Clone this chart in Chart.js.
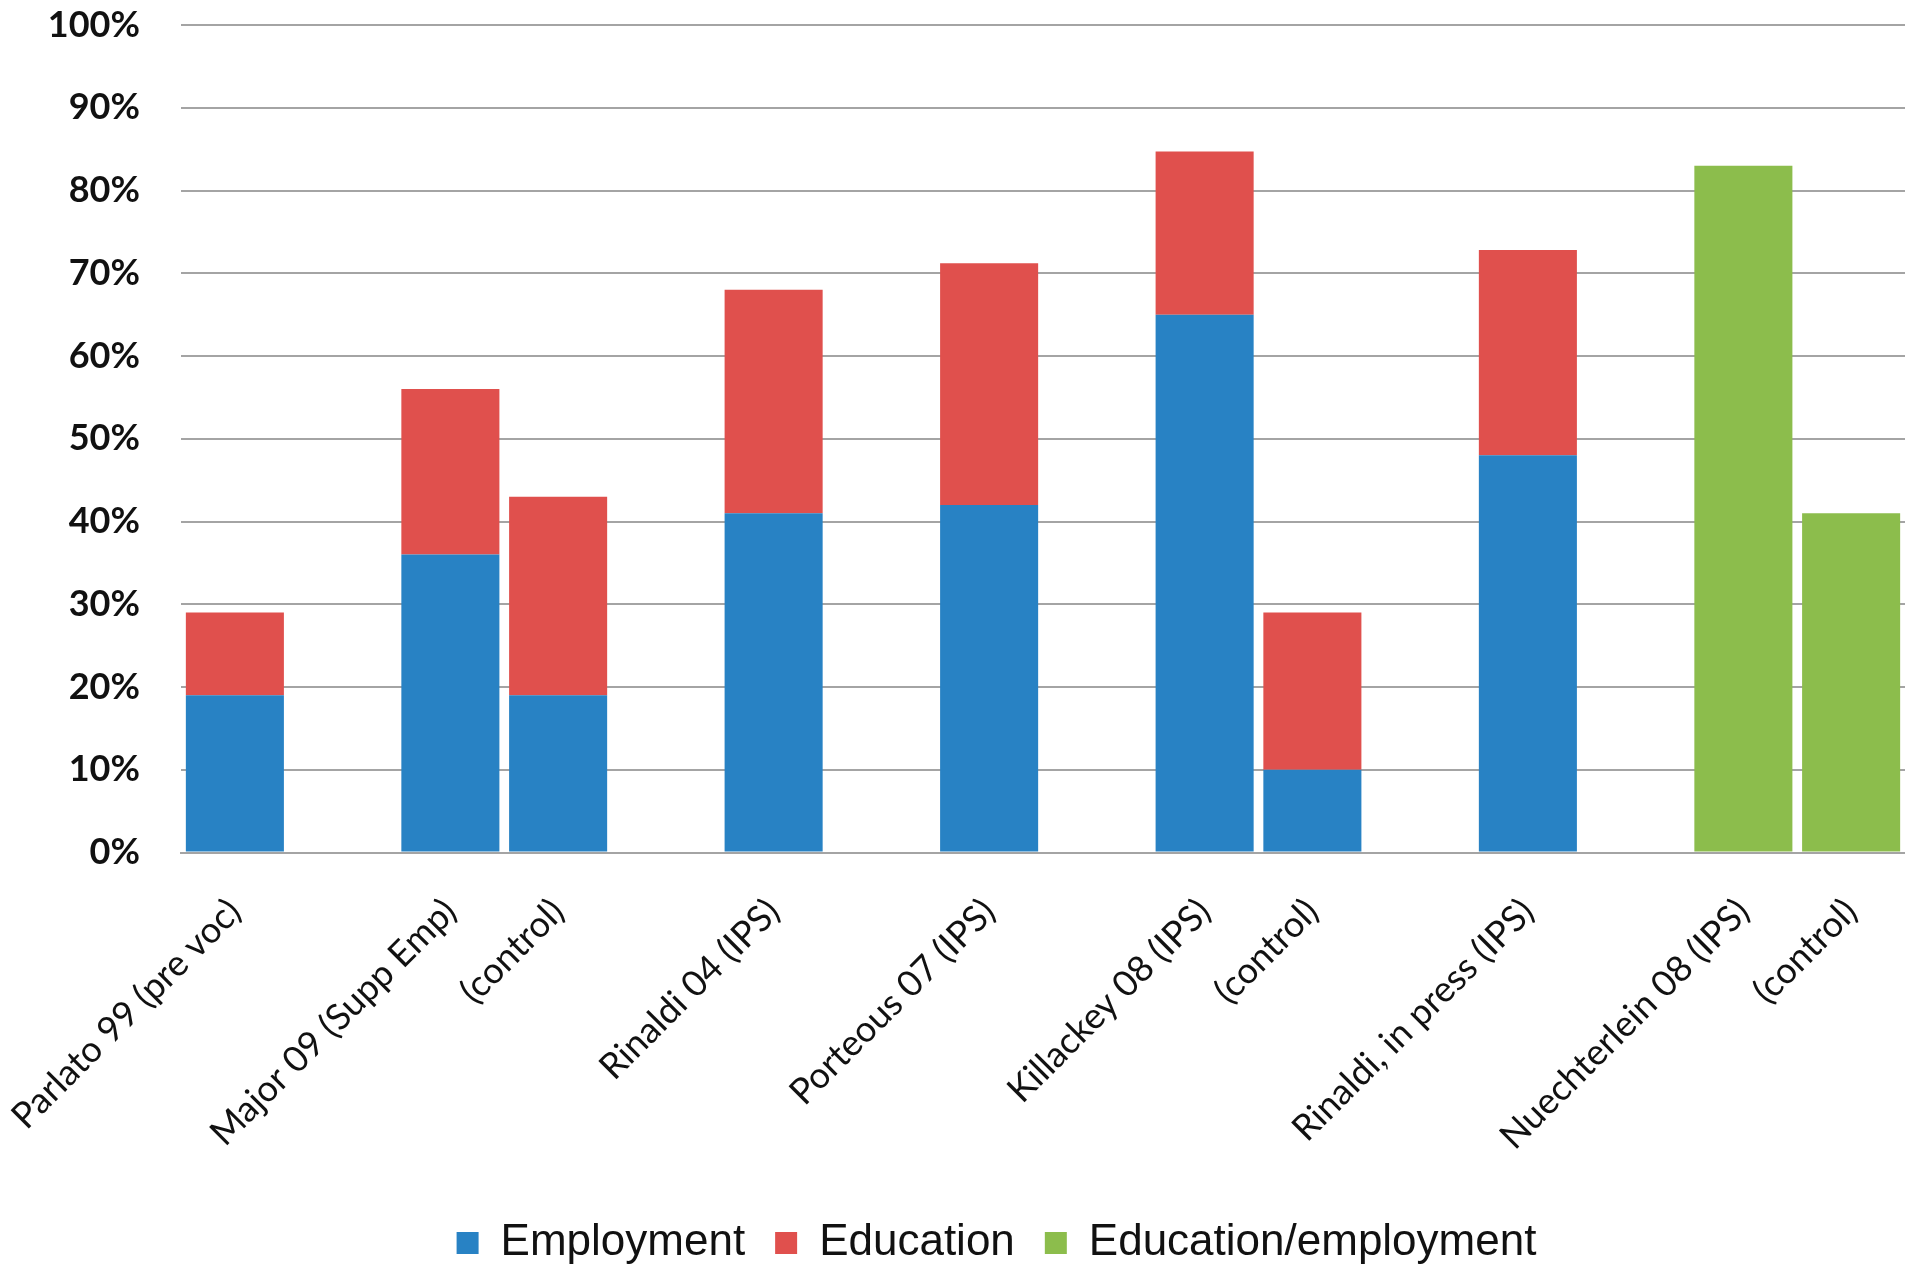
<!DOCTYPE html>
<html>
<head>
<meta charset="utf-8">
<script src="https://cdn.jsdelivr.net/npm/chart.js@4.4.0/dist/chart.umd.min.js"></script>
<style>
  html, body { margin: 0; padding: 0; background: #fff; overflow: hidden; }
  #wrap { width: 1905px; height: 1266px; position: relative; }
</style>
</head>
<body>
<div id="wrap"><canvas id="chart"></canvas></div>
<script>
// empty strings are the gaps between study groups
const categories = [
  'Parlato 99 (pre voc)', '',
  'Major 09 (Supp Emp)', '(control)', '',
  'Rinaldi 04 (IPS)', '',
  'Porteous 07 (IPS)', '',
  'Killackey 08 (IPS)', '(control)', '',
  'Rinaldi, in press (IPS)', '',
  'Nuechterlein 08 (IPS)', '(control)'
];
const employment = [19, null, 36, 19, null, 41, null, 42, null, 65, 10, null, 48, null, null, null];
const education = [10, null, 20, 24, null, 27, null, 29.2, null, 19.7, 19, null, 24.8, null, null, null];
const eduEmployment = [null, null, null, null, null, null, null, null, null, null, null, null, null, null, 83, 41];
const yTicks = [0, 10, 20, 30, 40, 50, 60, 70, 80, 90, 100];

const gridGray = '#a4a4a4';

// nudge the legend a little right of the canvas centre, as in the original
const legendShift = {
  id: 'legendShift',
  afterLayout(chart) {
    chart.legend.left += 44;
    chart.legend.right += 44;
  }
};

new Chart(document.getElementById('chart'), {
  type: 'bar',
  data: {
    labels: categories,
    datasets: [
      { label: 'Employment', data: employment, backgroundColor: '#2882c4' },
      { label: 'Education', data: education, backgroundColor: '#e0504d' },
      { label: 'Education/employment', data: eduEmployment, backgroundColor: '#8cbd4c' }
    ]
  },
  plugins: [legendShift],
  options: {
    responsive: true,
    maintainAspectRatio: false,
    animation: false,
    barPercentage: 0.91,
    categoryPercentage: 1,
    layout: { padding: { top: 25, right: 0, bottom: -9, left: 0 } },
    plugins: {
      tooltip: { enabled: false },
      legend: {
        position: 'bottom',
        labels: {
          color: '#111',
          boxWidth: 22,
          boxHeight: 22,
          padding: 30,
          font: { family: 'Liberation Sans', size: 44 }
        }
      }
    },
    scales: {
      x: {
        stacked: true,
        afterFit: scale => {
          scale.paddingLeft = 0;
          scale.paddingRight = 0;
          scale.height += 3;
        },
        grid: { display: false },
        border: { display: true, color: gridGray, width: 2 },
        ticks: {
          autoSkip: false,
          maxRotation: 45,
          minRotation: 45,
          padding: 30,
          color: '#111',
          font: { family: 'Lato', size: 36 }
        }
      },
      y: {
        stacked: true,
        min: 0,
        max: 100,
        afterFit: scale => {
          scale.width = 181;
          scale.paddingTop = 0;
          scale.paddingBottom = 0;
        },
        afterBuildTicks: scale => { scale.ticks = yTicks.map(v => ({ value: v })); },
        grid: { color: gridGray, lineWidth: 2, drawTicks: false },
        border: { display: false },
        ticks: {
          padding: 41,
          color: '#111',
          font: { family: 'Lato', size: 36, weight: 'bold' },
          callback: v => v + '%'
        }
      }
    }
  }
});
</script>
</body>
</html>
